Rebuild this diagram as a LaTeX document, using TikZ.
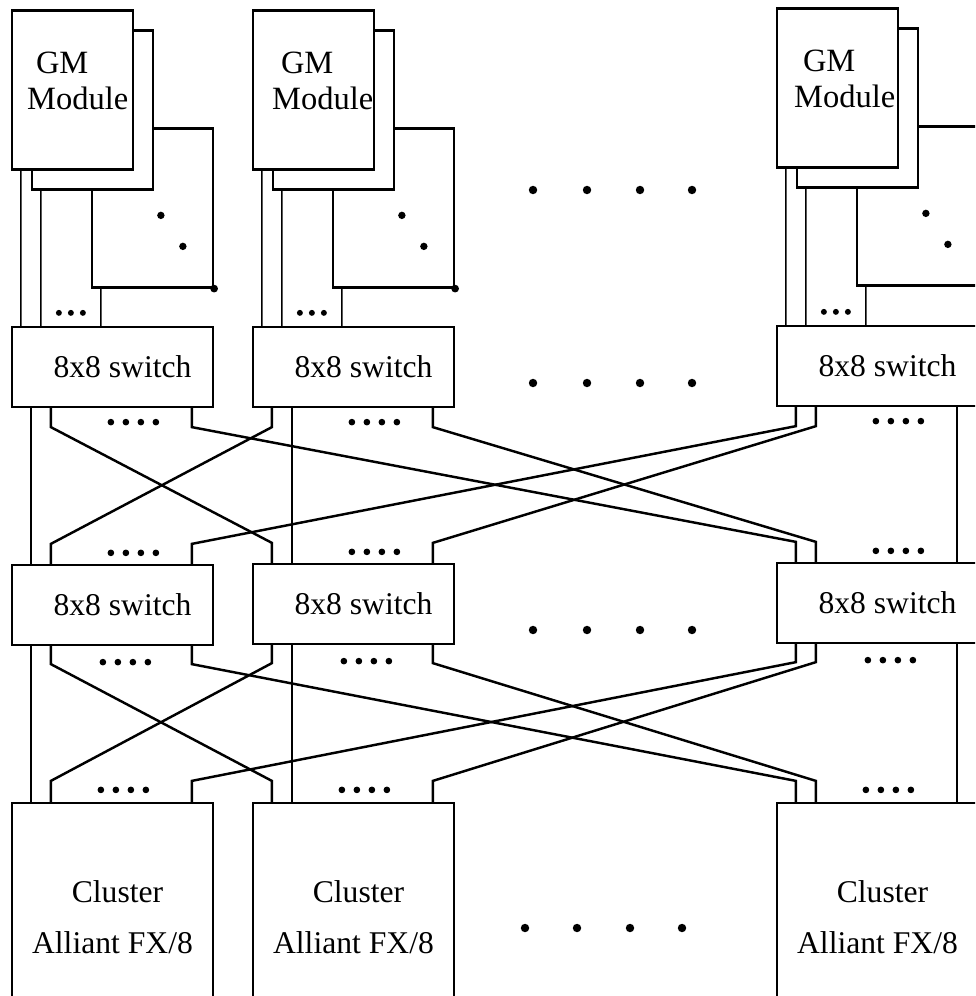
\documentclass[tikz,border=0pt]{standalone}
\usepackage{fontspec}
\setmainfont{Liberation Serif}
\usetikzlibrary{calc}

\tikzset{
  gmbox/.style={draw, fill=white, line width=1.3pt, minimum width=2.42cm, minimum height=3.18cm},
  gmtext/.style={anchor=north west, align=left, inner sep=0pt, font=\fontsize{18.5}{20.5}\selectfont},
  swbox/.style={draw, fill=white, line width=1.3pt, minimum width=4.02cm, minimum height=1.6cm, font=\fontsize{18}{21}\selectfont},
  clbox/.style={draw, line width=1.3pt, minimum width=4.02cm, minimum height=4.56cm, align=center, font=\fontsize{18}{29}\selectfont},
  wire/.style={line width=1.4pt, line join=miter},
  thinwire/.style={line width=0.8pt},
}

\begin{document}
\begin{tikzpicture}[x=0.02cm, y=-0.02cm]
\useasboundingbox (0,0) rectangle (975,996);
\clip (0,0) rectangle (975,996);

% global memory modules (three boards stacked per column)
\node[gmbox] (gm1c) at (152.5,208) {};
\node[gmbox] (gm1b) at (92.5,110) {};
\node[gmbox] (gm1a) at (72.5,90) {};
\node[gmbox] (gm2c) at (393.5,208) {};
\node[gmbox] (gm2b) at (333.5,110) {};
\node[gmbox] (gm2a) at (313.5,90) {};
\node[gmbox] (gm3c) at (917.5,206) {};
\node[gmbox] (gm3b) at (857.5,108) {};
\node[gmbox] (gm3a) at (837.5,88) {};
\node[gmtext] (gm1t) at ($(gm1a.north west)+(16,42)$) {\hspace{5pt}GM\\Module};
\node[gmtext] (gm2t) at ($(gm2a.north west)+(20,42)$) {\hspace{5pt}GM\\Module};
\node[gmtext] (gm3t) at ($(gm3a.north west)+(18,42)$) {\hspace{5pt}GM\\Module};

% switch stages
\node[swbox] (a1) at (112.5,367) {\hspace{0.4cm}8x8 switch};
\node[swbox] (a2) at (353.5,367) {\hspace{0.4cm}8x8 switch};
\node[swbox] (a3) at (877.5,366) {\hspace{0.4cm}8x8 switch};
\node[swbox] (b1) at (112.5,605) {\hspace{0.4cm}8x8 switch};
\node[swbox] (b2) at (353.5,604) {\hspace{0.4cm}8x8 switch};
\node[swbox] (b3) at (877.5,603) {\hspace{0.4cm}8x8 switch};

% clusters
\node[clbox] (c1) at (112.5,917) {\hspace{0.2cm}Cluster\\Alliant FX/8};
\node[clbox] (c2) at (353.5,917) {\hspace{0.2cm}Cluster\\Alliant FX/8};
\node[clbox] (c3) at (877.5,917) {\hspace{0.2cm}Cluster\\Alliant FX/8};

% memory boards to first stage
\draw[thinwire] ($(gm1a.south west)+(10,0)$) -- ($(a1.north west)+(10,0)$);
\draw[thinwire] ($(gm1b.south west)+(10,0)$) -- ($(a1.north west)+(30,0)$);
\draw[thinwire] ($(gm1c.south west)+(10,0)$) -- ($(a1.north west)+(90,0)$);
\draw[thinwire] ($(gm2a.south west)+(10,0)$) -- ($(a2.north west)+(10,0)$);
\draw[thinwire] ($(gm2b.south west)+(10,0)$) -- ($(a2.north west)+(30,0)$);
\draw[thinwire] ($(gm2c.south west)+(10,0)$) -- ($(a2.north west)+(90,0)$);
\draw[thinwire] ($(gm3a.south west)+(10,0)$) -- ($(a3.north west)+(10,0)$);
\draw[thinwire] ($(gm3b.south west)+(10,0)$) -- ($(a3.north west)+(30,0)$);
\draw[thinwire] ($(gm3c.south west)+(10,0)$) -- ($(a3.north west)+(90,0)$);

% first stage to second stage
\draw[thinwire] ($(a1.south west)+(20,0)$) -- ($(b1.north west)+(20,0)$);
\draw[wire] ($(a1.south west)+(40,0)$) -- ++(0,19) -- ($(b2.north west)+(20,-20)$) -- ++(0,20);
\draw[wire] ($(a1.south west)+(181,0)$) -- ++(0,19) -- ($(b3.north west)+(20,-20)$) -- ++(0,20);
\draw[wire] ($(a2.south west)+(20,0)$) -- ++(0,19) -- ($(b1.north west)+(40,-20)$) -- ++(0,20);
\draw[thinwire] ($(a2.south west)+(40,0)$) -- ($(b2.north west)+(40,0)$);
\draw[wire] ($(a2.south west)+(181,0)$) -- ++(0,19) -- ($(b3.north west)+(40,-20)$) -- ++(0,20);
\draw[wire] ($(a3.south west)+(20,0)$) -- ++(0,19) -- ($(b1.north west)+(181,-20)$) -- ++(0,20);
\draw[wire] ($(a3.south west)+(40,0)$) -- ++(0,19) -- ($(b2.north west)+(181,-20)$) -- ++(0,20);
\draw[thinwire] ($(a3.south west)+(181,0)$) -- ($(b3.north west)+(181,0)$);

% second stage to clusters
\draw[thinwire] ($(b1.south west)+(20,0)$) -- ($(c1.north west)+(20,0)$);
\draw[wire] ($(b1.south west)+(40,0)$) -- ++(0,18) -- ($(c2.north west)+(20,-21)$) -- ++(0,21);
\draw[wire] ($(b1.south west)+(181,0)$) -- ++(0,18) -- ($(c3.north west)+(20,-21)$) -- ++(0,21);
\draw[wire] ($(b2.south west)+(20,0)$) -- ++(0,18) -- ($(c1.north west)+(40,-21)$) -- ++(0,21);
\draw[thinwire] ($(b2.south west)+(40,0)$) -- ($(c2.north west)+(40,0)$);
\draw[wire] ($(b2.south west)+(181,0)$) -- ++(0,18) -- ($(c3.north west)+(40,-21)$) -- ++(0,21);
\draw[wire] ($(b3.south west)+(20,0)$) -- ++(0,18) -- ($(c1.north west)+(181,-21)$) -- ++(0,21);
\draw[wire] ($(b3.south west)+(40,0)$) -- ++(0,18) -- ($(c2.north west)+(181,-21)$) -- ++(0,21);
\draw[thinwire] ($(b3.south west)+(181,0)$) -- ($(c3.north west)+(181,0)$);

% dots
\foreach \n in {gm1c,gm2c,gm3c}{
  \fill ($(\n.north west)+(70,88)$) circle[radius=2.1pt];
  \fill ($(\n.north west)+(92,119)$) circle[radius=2.1pt];
  \fill (\n.south east) circle[radius=2.2pt];
}
\foreach \n in {a1,a2,a3}{
  \foreach \i in {0,1,2} \fill ($(\n.north west)+(48+12*\i,-13)$) circle[radius=1.7pt];
  \foreach \i in {0,...,3} \fill ($(\n.south west)+(100+15*\i,14)$) circle[radius=1.9pt];
}
\foreach \n in {b1,b2,b3}{
  \foreach \i in {0,...,3} \fill ($(\n.north west)+(100+15*\i,-11)$) circle[radius=1.9pt];
  \foreach \i in {0,...,3} \fill ($(\n.south west)+(92+15*\i,16)$) circle[radius=1.9pt];
}
\foreach \n in {c1,c2,c3}
  \foreach \i in {0,...,3} \fill ($(\n.north west)+(90+15*\i,-12)$) circle[radius=1.9pt];

% more columns in between
\foreach \y in {190,383,630}
  \foreach \x in {533,587,640,692} \fill (\x,\y) circle[radius=2.4pt];
\foreach \x in {525,577,630,682} \fill (\x,928) circle[radius=2.4pt];
\end{tikzpicture}
\end{document}
